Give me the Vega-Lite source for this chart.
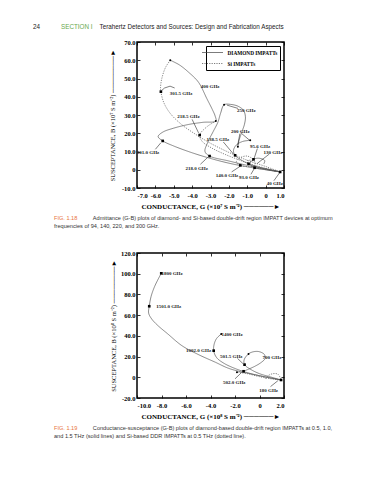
{
  "$schema": "https://vega.github.io/schema/vega-lite/v6.json",
  "background": "white",
  "padding": {"left": 33, "top": 23, "right": 0, "bottom": 0},
  "spacing": 19,
  "title": {
    "text": "\u200b\u00a0\u00a0\u00a0\u00a0\u00a0\u00a0\u00a0\u00a0\u00a0\u00a0\u00a0\u00a0\u00a0\u00a0\u00a0\u00a0SECTION I",
    "subtitle": "24\u00a0\u00a0\u00a0\u00a0\u00a0\u00a0\u00a0\u00a0\u00a0\u00a0\u00a0\u00a0\u00a0\u00a0\u00a0\u00a0\u00a0\u00a0\u00a0\u00a0\u00a0\u00a0\u00a0\u00a0\u00a0\u00a0\u00a0\u00a0\u00a0\u00a0\u00a0\u00a0\u00a0\u00a0Terahertz Detectors and Sources: Design and Fabrication Aspects",
    "anchor": "start", "frame": "group", "dx": -104, "offset": 8,
    "font": "Liberation Sans", "fontSize": 6.3, "fontWeight": "normal", "color": "#6aa84f",
    "subtitleFont": "Liberation Sans", "subtitleFontSize": 6.3, "subtitleColor": "#222", "subtitlePadding": -6.3
  },
  "config": {
    "view": {"stroke": "black", "strokeWidth": 1.5},
    "axis": {"grid": false, "domain": false, "tickSize": -3, "tickColor": "black", "tickWidth": 0.8,
      "labelFont": "Liberation Serif", "labelFontWeight": "bold", "labelFontSize": 6.5, "labelColor": "black",
      "titleFont": "Liberation Serif", "titleFontSize": 6.5, "titleColor": "black", "titleFontWeight": "normal"},
    "axisX": {"labelPadding": 7, "titleFontWeight": "bold", "titleFontSize": 7, "titlePadding": 4},
    "axisY": {"labelPadding": 5, "titlePadding": 6},
    "legend": {"title": null, "orient": "top-right", "offset": 4, "symbolType": "M-3,0H3", "symbolSize": 49,
      "symbolStrokeWidth": 0.7, "symbolStrokeColor": "#444", "labelFont": "Liberation Serif", "labelFontWeight": "bold",
      "labelFontSize": 5.3, "labelColor": "black", "strokeColor": "black", "fillColor": "white", "padding": 2.5,
      "rowPadding": 3, "labelOffset": 11}
  },
  "datasets": {
    "c1": [
      {"curve":"D300","impatt":"DIAMOND IMPATTs","i":0,"g":0.79,"b":-1.2},
      {"curve":"D300","impatt":"DIAMOND IMPATTs","i":1,"g":0,"b":0},
      {"curve":"D300","impatt":"DIAMOND IMPATTs","i":2,"g":-1,"b":1.6},
      {"curve":"D300","impatt":"DIAMOND IMPATTs","i":3,"g":-2,"b":3.6},
      {"curve":"D300","impatt":"DIAMOND IMPATTs","i":4,"g":-3,"b":6.2},
      {"curve":"D300","impatt":"DIAMOND IMPATTs","i":5,"g":-4,"b":9.3},
      {"curve":"D300","impatt":"DIAMOND IMPATTs","i":6,"g":-5,"b":13},
      {"curve":"D300","impatt":"DIAMOND IMPATTs","i":7,"g":-5.6,"b":15.8},
      {"curve":"D300","impatt":"DIAMOND IMPATTs","i":8,"g":-5.85,"b":18.2},
      {"curve":"D300","impatt":"DIAMOND IMPATTs","i":9,"g":-5.6,"b":20.6},
      {"curve":"D300","impatt":"DIAMOND IMPATTs","i":10,"g":-5,"b":22.8},
      {"curve":"D300","impatt":"DIAMOND IMPATTs","i":11,"g":-4.2,"b":24.8},
      {"curve":"D300","impatt":"DIAMOND IMPATTs","i":12,"g":-3.4,"b":26},
      {"curve":"D300","impatt":"DIAMOND IMPATTs","i":13,"g":-2.71,"b":26.7},
      {"curve":"D300","impatt":"DIAMOND IMPATTs","i":14,"g":-2.75,"b":29.5},
      {"curve":"D300","impatt":"DIAMOND IMPATTs","i":15,"g":-2.9,"b":33},
      {"curve":"D300","impatt":"DIAMOND IMPATTs","i":16,"g":-3.2,"b":39},
      {"curve":"D300","impatt":"DIAMOND IMPATTs","i":17,"g":-3.65,"b":47.9},
      {"curve":"D300","impatt":"DIAMOND IMPATTs","i":18,"g":-4.2,"b":53.5},
      {"curve":"D300","impatt":"DIAMOND IMPATTs","i":19,"g":-4.7,"b":57.5},
      {"curve":"D300","impatt":"DIAMOND IMPATTs","i":20,"g":-5.19,"b":60},
      {"curve":"S300","impatt":"Si IMPATTs","i":0,"g":-5.19,"b":60},
      {"curve":"S300","impatt":"Si IMPATTs","i":1,"g":-5.45,"b":56},
      {"curve":"S300","impatt":"Si IMPATTs","i":2,"g":-5.65,"b":50},
      {"curve":"S300","impatt":"Si IMPATTs","i":3,"g":-5.72,"b":45},
      {"curve":"S300","impatt":"Si IMPATTs","i":4,"g":-5.7,"b":42.8},
      {"curve":"S300","impatt":"Si IMPATTs","i":5,"g":-5.55,"b":37},
      {"curve":"S300","impatt":"Si IMPATTs","i":6,"g":-5.2,"b":31},
      {"curve":"S300","impatt":"Si IMPATTs","i":7,"g":-4.6,"b":25},
      {"curve":"S300","impatt":"Si IMPATTs","i":8,"g":-3.9,"b":20},
      {"curve":"S300","impatt":"Si IMPATTs","i":9,"g":-3,"b":14.5},
      {"curve":"S300","impatt":"Si IMPATTs","i":10,"g":-2,"b":9.5},
      {"curve":"S300","impatt":"Si IMPATTs","i":11,"g":-1,"b":5.2},
      {"curve":"S300","impatt":"Si IMPATTs","i":12,"g":0,"b":1.8},
      {"curve":"S300","impatt":"Si IMPATTs","i":13,"g":0.79,"b":-1.2},
      {"curve":"D220","impatt":"DIAMOND IMPATTs","i":0,"g":0.79,"b":-1.2},
      {"curve":"D220","impatt":"DIAMOND IMPATTs","i":1,"g":0,"b":0.4},
      {"curve":"D220","impatt":"DIAMOND IMPATTs","i":2,"g":-1,"b":2.4},
      {"curve":"D220","impatt":"DIAMOND IMPATTs","i":3,"g":-2,"b":4.8},
      {"curve":"D220","impatt":"DIAMOND IMPATTs","i":4,"g":-3.05,"b":7.5},
      {"curve":"D220","impatt":"DIAMOND IMPATTs","i":5,"g":-3.3,"b":10},
      {"curve":"D220","impatt":"DIAMOND IMPATTs","i":6,"g":-3.15,"b":15},
      {"curve":"D220","impatt":"DIAMOND IMPATTs","i":7,"g":-2.85,"b":21},
      {"curve":"D220","impatt":"DIAMOND IMPATTs","i":8,"g":-2.6,"b":26},
      {"curve":"D220","impatt":"DIAMOND IMPATTs","i":9,"g":-2.45,"b":31},
      {"curve":"D220","impatt":"DIAMOND IMPATTs","i":10,"g":-2.26,"b":35.6},
      {"curve":"D220","impatt":"DIAMOND IMPATTs","i":11,"g":-1.9,"b":35.8},
      {"curve":"D220","impatt":"DIAMOND IMPATTs","i":12,"g":-1.5,"b":34.8},
      {"curve":"D220","impatt":"DIAMOND IMPATTs","i":13,"g":-1.2,"b":32.5},
      {"curve":"D220","impatt":"DIAMOND IMPATTs","i":14,"g":-1.1,"b":29},
      {"curve":"D220","impatt":"DIAMOND IMPATTs","i":15,"g":-1.15,"b":25},
      {"curve":"D220","impatt":"DIAMOND IMPATTs","i":16,"g":-1.3,"b":20.5},
      {"curve":"D220","impatt":"DIAMOND IMPATTs","i":17,"g":-1.45,"b":16},
      {"curve":"D220","impatt":"DIAMOND IMPATTs","i":18,"g":-1.51,"b":12.6},
      {"curve":"S220","impatt":"Si IMPATTs","i":0,"g":-2.71,"b":26.7},
      {"curve":"S220","impatt":"Si IMPATTs","i":1,"g":-3.2,"b":23.5},
      {"curve":"S220","impatt":"Si IMPATTs","i":2,"g":-3.59,"b":19},
      {"curve":"S220","impatt":"Si IMPATTs","i":3,"g":-3.45,"b":15.5},
      {"curve":"S220","impatt":"Si IMPATTs","i":4,"g":-2.95,"b":12},
      {"curve":"S220","impatt":"Si IMPATTs","i":5,"g":-2.25,"b":8.6},
      {"curve":"S220","impatt":"Si IMPATTs","i":6,"g":-1.5,"b":5.6},
      {"curve":"S220","impatt":"Si IMPATTs","i":7,"g":-0.8,"b":3},
      {"curve":"S220","impatt":"Si IMPATTs","i":8,"g":0,"b":0.8},
      {"curve":"S220","impatt":"Si IMPATTs","i":9,"g":0.79,"b":-1.2},
      {"curve":"D140","impatt":"DIAMOND IMPATTs","i":0,"g":0.79,"b":-1.2},
      {"curve":"D140","impatt":"DIAMOND IMPATTs","i":1,"g":0.2,"b":0.2},
      {"curve":"D140","impatt":"DIAMOND IMPATTs","i":2,"g":-0.4,"b":1.4},
      {"curve":"D140","impatt":"DIAMOND IMPATTs","i":3,"g":-0.93,"b":3.3},
      {"curve":"D140","impatt":"DIAMOND IMPATTs","i":4,"g":-1.35,"b":5.5},
      {"curve":"D140","impatt":"DIAMOND IMPATTs","i":5,"g":-1.66,"b":7.9},
      {"curve":"D140","impatt":"DIAMOND IMPATTs","i":6,"g":-1.75,"b":10.5},
      {"curve":"D140","impatt":"DIAMOND IMPATTs","i":7,"g":-1.6,"b":13.5},
      {"curve":"D140","impatt":"DIAMOND IMPATTs","i":8,"g":-1.25,"b":15.5},
      {"curve":"D140","impatt":"DIAMOND IMPATTs","i":9,"g":-0.84,"b":16.1},
      {"curve":"S140","impatt":"Si IMPATTs","i":0,"g":0.79,"b":-1.2},
      {"curve":"S140","impatt":"Si IMPATTs","i":1,"g":0.1,"b":0.1},
      {"curve":"S140","impatt":"Si IMPATTs","i":2,"g":-0.7,"b":1.5},
      {"curve":"S140","impatt":"Si IMPATTs","i":3,"g":-1.38,"b":2.4},
      {"curve":"S140","impatt":"Si IMPATTs","i":4,"g":-1.6,"b":4.2},
      {"curve":"S140","impatt":"Si IMPATTs","i":5,"g":-1.4,"b":6.5},
      {"curve":"S140","impatt":"Si IMPATTs","i":6,"g":-1,"b":7.5},
      {"curve":"S140","impatt":"Si IMPATTs","i":7,"g":-0.66,"b":5.7},
      {"curve":"D94","impatt":"DIAMOND IMPATTs","i":0,"g":0.79,"b":-1.2},
      {"curve":"D94","impatt":"DIAMOND IMPATTs","i":1,"g":0.3,"b":-0.4},
      {"curve":"D94","impatt":"DIAMOND IMPATTs","i":2,"g":-0.2,"b":0.4},
      {"curve":"D94","impatt":"DIAMOND IMPATTs","i":3,"g":-0.6,"b":1.1},
      {"curve":"D94","impatt":"DIAMOND IMPATTs","i":4,"g":-0.85,"b":3},
      {"curve":"D94","impatt":"DIAMOND IMPATTs","i":5,"g":-0.66,"b":5.7},
      {"curve":"D94","impatt":"DIAMOND IMPATTs","i":6,"g":-0.35,"b":6.3},
      {"curve":"D94","impatt":"DIAMOND IMPATTs","i":7,"g":-0.05,"b":5},
      {"curve":"D94","impatt":"DIAMOND IMPATTs","i":8,"g":-0.1,"b":3.2},
      {"curve":"S94","impatt":"Si IMPATTs","i":0,"g":0.79,"b":-1.2},
      {"curve":"S94","impatt":"Si IMPATTs","i":1,"g":0.2,"b":-0.1},
      {"curve":"S94","impatt":"Si IMPATTs","i":2,"g":-0.4,"b":1.6},
      {"curve":"S94","impatt":"Si IMPATTs","i":3,"g":-0.93,"b":3.3},
      {"curve":"S94","impatt":"Si IMPATTs","i":4,"g":-1,"b":5},
      {"curve":"S94","impatt":"Si IMPATTs","i":5,"g":-0.6,"b":4.6},
      {"curve":"S94","impatt":"Si IMPATTs","i":6,"g":-0.6,"b":1.1}
    ],
    "l1": [
      {"curve":"L1","i":0,"g":-6.0,"b":11.2},{"curve":"L1","i":1,"g":-5.7,"b":14.8},
      {"curve":"L2","i":0,"g":-3.55,"b":3},{"curve":"L2","i":1,"g":-3.15,"b":6.8},
      {"curve":"L3","i":0,"g":-4.0,"b":27.6},{"curve":"L3","i":1,"g":-3.65,"b":20.2},
      {"curve":"L4","i":0,"g":-2.3,"b":15.2},{"curve":"L4","i":1,"g":-1.75,"b":8.6},
      {"curve":"L5","i":0,"g":-1.4,"b":19.8},{"curve":"L5","i":1,"g":-1.52,"b":13.4},
      {"curve":"L6","i":0,"g":-1.3,"b":19.8},{"curve":"L6","i":1,"g":-0.9,"b":16.4},
      {"curve":"L7","i":0,"g":-0.45,"b":11.6},{"curve":"L7","i":1,"g":-0.62,"b":6.4},
      {"curve":"L8","i":0,"g":0.2,"b":8.6},{"curve":"L8","i":1,"g":-0.45,"b":3.5},
      {"curve":"L9","i":0,"g":-1.85,"b":-1.2},{"curve":"L9","i":1,"g":-1.4,"b":1.8},
      {"curve":"L10","i":0,"g":-0.8,"b":-2.5},{"curve":"L10","i":1,"g":-0.62,"b":0.6},
      {"curve":"L11","i":0,"g":0.45,"b":-6},{"curve":"L11","i":1,"g":0.75,"b":-1.8},
      {"curve":"L12","i":0,"g":-4.95,"b":44.8},{"curve":"L12","i":1,"g":-5.2,"b":45.8},{"curve":"L12","i":2,"g":-5.5,"b":44.8},{"curve":"L12","i":3,"g":-5.65,"b":43.5},
      {"curve":"L13","i":0,"g":-1.5,"b":33.6},{"curve":"L13","i":1,"g":-2.1,"b":35.4}
    ],
    "sq1": [
      {"g":-5.7,"b":42.8},{"g":-5.6,"b":15.8},{"g":-3.59,"b":19},{"g":-3.05,"b":7.5},{"g":-1.66,"b":7.9},
      {"g":-1.38,"b":2.4},{"g":-0.93,"b":3.3},{"g":-0.6,"b":1.1},{"g":0.79,"b":-1.2},{"g":-0.66,"b":5.7}
    ],
    "dot1": [
      {"g":-5.19,"b":60},{"g":-2.71,"b":26.7},{"g":-2.26,"b":35.6},{"g":-0.84,"b":16.1},{"g":-1.51,"b":12.6}
    ],
    "t1": [
      {"label":"400 GHz","g":-3.02,"b":45.9},
      {"label":"301.5 GHz","g":-4.6,"b":42.3},
      {"label":"250 GHz","g":-1.05,"b":32.8},
      {"label":"218.5 GHz","g":-4.2,"b":29.5},
      {"label":"200 GHz","g":-1.38,"b":21.4},
      {"label":"138.5 GHz","g":-2.6,"b":16.7},
      {"label":"95.6 GHz","g":-0.3,"b":13},
      {"label":"130 GHz","g":0.4,"b":9.8},
      {"label":"301.0 GHz","g":-6.4,"b":9.8},
      {"label":"218.0 GHz","g":-3.75,"b":1.1},
      {"label":"140.0 GHz","g":-2.1,"b":-2.7},
      {"label":"93.0 GHz","g":-0.9,"b":-3.9},
      {"label":"40 GHz","g":0.5,"b":-7.5}
    ],
    "c2": [
      {"curve":"D15","impatt":"DIAMOND IMPATTs","i":0,"g":1.76,"b":-2.6},
      {"curve":"D15","impatt":"DIAMOND IMPATTs","i":1,"g":1,"b":-1},
      {"curve":"D15","impatt":"DIAMOND IMPATTs","i":2,"g":0,"b":1.5},
      {"curve":"D15","impatt":"DIAMOND IMPATTs","i":3,"g":-1,"b":4},
      {"curve":"D15","impatt":"DIAMOND IMPATTs","i":4,"g":-1.7,"b":5.8},
      {"curve":"D15","impatt":"DIAMOND IMPATTs","i":5,"g":-2.6,"b":9},
      {"curve":"D15","impatt":"DIAMOND IMPATTs","i":6,"g":-3.6,"b":14.5},
      {"curve":"D15","impatt":"DIAMOND IMPATTs","i":7,"g":-5,"b":22},
      {"curve":"D15","impatt":"DIAMOND IMPATTs","i":8,"g":-6.33,"b":30.5},
      {"curve":"D15","impatt":"DIAMOND IMPATTs","i":9,"g":-7.5,"b":42},
      {"curve":"D15","impatt":"DIAMOND IMPATTs","i":10,"g":-8.3,"b":50},
      {"curve":"D15","impatt":"DIAMOND IMPATTs","i":11,"g":-8.8,"b":56.3},
      {"curve":"D15","impatt":"DIAMOND IMPATTs","i":12,"g":-9.05,"b":62},
      {"curve":"D15","impatt":"DIAMOND IMPATTs","i":13,"g":-9,"b":68.6},
      {"curve":"D15","impatt":"DIAMOND IMPATTs","i":14,"g":-8.85,"b":78},
      {"curve":"D15","impatt":"DIAMOND IMPATTs","i":15,"g":-8.55,"b":88},
      {"curve":"D15","impatt":"DIAMOND IMPATTs","i":16,"g":-8.02,"b":100.4},
      {"curve":"D10","impatt":"DIAMOND IMPATTs","i":0,"g":1.76,"b":-2.6},
      {"curve":"D10","impatt":"DIAMOND IMPATTs","i":1,"g":1,"b":-0.8},
      {"curve":"D10","impatt":"DIAMOND IMPATTs","i":2,"g":0,"b":1.5},
      {"curve":"D10","impatt":"DIAMOND IMPATTs","i":3,"g":-1,"b":4.5},
      {"curve":"D10","impatt":"DIAMOND IMPATTs","i":4,"g":-2,"b":8.5},
      {"curve":"D10","impatt":"DIAMOND IMPATTs","i":5,"g":-2.9,"b":13.5},
      {"curve":"D10","impatt":"DIAMOND IMPATTs","i":6,"g":-3.5,"b":19},
      {"curve":"D10","impatt":"DIAMOND IMPATTs","i":7,"g":-3.74,"b":25.7},
      {"curve":"D10","impatt":"DIAMOND IMPATTs","i":8,"g":-3.7,"b":32},
      {"curve":"D10","impatt":"DIAMOND IMPATTs","i":9,"g":-3.5,"b":37.5},
      {"curve":"D10","impatt":"DIAMOND IMPATTs","i":10,"g":-3.12,"b":41.8},
      {"curve":"D05","impatt":"DIAMOND IMPATTs","i":0,"g":1.76,"b":-2.6},
      {"curve":"D05","impatt":"DIAMOND IMPATTs","i":1,"g":1,"b":0},
      {"curve":"D05","impatt":"DIAMOND IMPATTs","i":2,"g":0,"b":3.5},
      {"curve":"D05","impatt":"DIAMOND IMPATTs","i":3,"g":-0.7,"b":7.5},
      {"curve":"D05","impatt":"DIAMOND IMPATTs","i":4,"g":-1.22,"b":12.2},
      {"curve":"D05","impatt":"DIAMOND IMPATTs","i":5,"g":-1.25,"b":17},
      {"curve":"D05","impatt":"DIAMOND IMPATTs","i":6,"g":-0.9,"b":22.5},
      {"curve":"D05","impatt":"DIAMOND IMPATTs","i":7,"g":-0.55,"b":24.5},
      {"curve":"D05","impatt":"DIAMOND IMPATTs","i":8,"g":-0.05,"b":24.8},
      {"curve":"D05","impatt":"DIAMOND IMPATTs","i":9,"g":0.4,"b":22},
      {"curve":"D05","impatt":"DIAMOND IMPATTs","i":10,"g":0.45,"b":18},
      {"curve":"D05","impatt":"DIAMOND IMPATTs","i":11,"g":0.1,"b":14},
      {"curve":"D05","impatt":"DIAMOND IMPATTs","i":12,"g":-0.4,"b":10.5},
      {"curve":"D05","impatt":"DIAMOND IMPATTs","i":13,"g":-0.9,"b":7.8},
      {"curve":"D05","impatt":"DIAMOND IMPATTs","i":14,"g":-1.3,"b":5.8},
      {"curve":"S05","impatt":"Si IMPATTs","i":0,"g":1.76,"b":-2.6},
      {"curve":"S05","impatt":"Si IMPATTs","i":1,"g":1,"b":-1.6},
      {"curve":"S05","impatt":"Si IMPATTs","i":2,"g":0,"b":0.6},
      {"curve":"S05","impatt":"Si IMPATTs","i":3,"g":-1,"b":3.5},
      {"curve":"S05","impatt":"Si IMPATTs","i":4,"g":-1.84,"b":4.9},
      {"curve":"S05b","impatt":"Si IMPATTs","i":0,"g":0.5,"b":-1.5},
      {"curve":"S05b","impatt":"Si IMPATTs","i":1,"g":0.7,"b":1.5},
      {"curve":"S05b","impatt":"Si IMPATTs","i":2,"g":1.1,"b":3.5},
      {"curve":"S05b","impatt":"Si IMPATTs","i":3,"g":1.5,"b":3},
      {"curve":"S05b","impatt":"Si IMPATTs","i":4,"g":1.76,"b":-2}
    ],
    "l2": [
      {"curve":"M1","i":0,"g":-1.8,"b":18.3},{"curve":"M1","i":1,"g":-1.35,"b":13.2},
      {"curve":"M2","i":0,"g":-2.0,"b":-1.5},{"curve":"M2","i":1,"g":-1.45,"b":4.8},
      {"curve":"M3","i":0,"g":0.9,"b":-9},{"curve":"M3","i":1,"g":1.5,"b":-3.3}
    ],
    "sq2": [
      {"g":-8.02,"b":100.4},{"g":-9,"b":68.6},{"g":-3.74,"b":25.7},{"g":-1.22,"b":12.2},{"g":-1.3,"b":5.8},{"g":1.76,"b":-2.6}
    ],
    "dot2": [
      {"g":-3.12,"b":41.8},{"g":-0.9,"b":22.5},{"g":-1.84,"b":4.9}
    ],
    "t2": [
      {"label":"1800 GHz","g":-7.14,"b":100.4},
      {"label":"1501.0 GHz","g":-7.41,"b":68.6},
      {"label":"1400 GHz","g":-2.24,"b":41.8},
      {"label":"1002.0 GHz","g":-4.97,"b":26.7},
      {"label":"501.5 GHz","g":-2.3,"b":20.3},
      {"label":"700 GHz","g":1.02,"b":19.3},
      {"label":"502.0 GHz","g":-2.06,"b":-4.2},
      {"label":"180 GHz","g":0.75,"b":-12}
    ]
  },
  "vconcat": [
    {
      "width": 147, "height": 146,
      "title": {
        "text": "FIG. 1.18",
        "subtitle": ["\u200b\u00a0\u00a0\u00a0\u00a0\u00a0\u00a0\u00a0\u00a0\u00a0\u00a0\u00a0\u00a0\u00a0\u00a0\u00a0\u00a0\u00a0\u00a0\u00a0\u00a0\u00a0\u00a0\u00a0\u00a0\u00a0Admittance (G-B) plots of diamond- and Si-based double-drift region IMPATT devices at optimum", "frequencies of 94, 140, 220, and 300 GHz."],
        "orient": "bottom", "anchor": "start", "frame": "group", "dx": -83, "offset": 6,
        "font": "Liberation Sans", "fontSize": 5.6, "fontWeight": "normal", "color": "#e8743b",
        "subtitleFont": "Liberation Sans", "subtitleFontSize": 5.6, "subtitleColor": "#333", "subtitlePadding": -5.6, "subtitleLineHeight": 8
      },
      "resolve": {"axis": {"x": "independent", "y": "independent"}},
      "layer": [
        {
          "data": {"name": "c1"},
          "mark": {"type": "line", "interpolate": "catmull-rom", "strokeWidth": 0.7, "color": "#555"},
          "encoding": {
            "x": {"field": "g", "type": "quantitative", "scale": {"domain": [-7, 1], "nice": false, "zero": false},
              "axis": {"values": [-7,-6,-5,-4,-3,-2,-1,0,1], "labelExpr": "datum.value == 0 ? '0' : replace(format(datum.value, '.1f'), '\u2212', '-')", "title": "CONDUCTANCE, G (\u00d710\u2077 S m\u207b\u00b2) \u2500\u2500\u2500\u2500\u2500\u2500\u25ba"}},
            "y": {"field": "b", "type": "quantitative", "scale": {"domain": [-10, 70], "nice": false, "zero": false},
              "axis": {"values": [-10,0,10,20,30,40,50,60,70], "labelExpr": "datum.value == 0 ? '0' : replace(format(datum.value, '.1f'), '\u2212', '-')", "title": "SUSCEPTANCE, B (\u00d710\u2077 S m\u207b\u00b2) \u2500\u2500\u2500\u2500\u2500\u2500\u2500\u2500\u25ba"}},
            "detail": {"field": "curve"},
            "order": {"field": "i"},
            "strokeDash": {"field": "impatt", "type": "nominal",
              "scale": {"domain": ["DIAMOND IMPATTs", "Si IMPATTs"], "range": [[1, 0], [1.2, 1.2]]}}
          }
        },
        {
          "data": {"name": "l1"},
          "mark": {"type": "line", "strokeWidth": 0.5, "color": "black"},
          "encoding": {
            "x": {"field": "g", "type": "quantitative", "axis": null},
            "y": {"field": "b", "type": "quantitative", "axis": null},
            "detail": {"field": "curve"},
            "order": {"field": "i"}
          }
        },
        {
          "data": {"name": "sq1"},
          "mark": {"type": "square", "size": 7, "color": "black", "filled": true, "opacity": 1},
          "encoding": {
            "x": {"field": "g", "type": "quantitative", "axis": {"orient": "top", "values": [-7,-6,-5,-4,-3,-2,-1,0,1], "labels": false, "title": null}},
            "y": {"field": "b", "type": "quantitative", "axis": {"orient": "right", "values": [-10,0,10,20,30,40,50,60,70], "labels": false, "title": null}}
          }
        },
        {
          "data": {"name": "dot1"},
          "mark": {"type": "circle", "size": 4, "color": "black", "opacity": 1},
          "encoding": {
            "x": {"field": "g", "type": "quantitative", "axis": null},
            "y": {"field": "b", "type": "quantitative", "axis": null}
          }
        },
        {
          "data": {"name": "t1"},
          "mark": {"type": "text", "font": "Liberation Serif", "fontWeight": "bold", "fontSize": 5, "color": "#222"},
          "encoding": {
            "x": {"field": "g", "type": "quantitative", "axis": null},
            "y": {"field": "b", "type": "quantitative", "axis": null},
            "text": {"field": "label"}
          }
        }
      ]
    },
    {
      "width": 147, "height": 145,
      "title": {
        "text": "FIG. 1.19",
        "subtitle": ["\u200b\u00a0\u00a0\u00a0\u00a0\u00a0\u00a0\u00a0\u00a0\u00a0\u00a0\u00a0\u00a0\u00a0\u00a0\u00a0\u00a0\u00a0\u00a0\u00a0\u00a0\u00a0\u00a0\u00a0\u00a0\u00a0Conductance-susceptance (G-B) plots of diamond-based double-drift region IMPATTs at 0.5, 1.0,", "and 1.5 THz (solid lines) and Si-based DDR IMPATTs at 0.5 THz (dotted line)."],
        "orient": "bottom", "anchor": "start", "frame": "group", "dx": -83, "offset": 6,
        "font": "Liberation Sans", "fontSize": 5.6, "fontWeight": "normal", "color": "#e8743b",
        "subtitleFont": "Liberation Sans", "subtitleFontSize": 5.6, "subtitleColor": "#333", "subtitlePadding": -5.6, "subtitleLineHeight": 8
      },
      "resolve": {"axis": {"x": "independent", "y": "independent"}},
      "layer": [
        {
          "data": {"name": "c2"},
          "mark": {"type": "line", "interpolate": "catmull-rom", "strokeWidth": 0.7, "color": "#555"},
          "encoding": {
            "x": {"field": "g", "type": "quantitative", "scale": {"domain": [-10, 2], "nice": false, "zero": false},
              "axis": {"values": [-10,-8,-6,-4,-2,0,2], "labelExpr": "datum.value == 0 ? '0' : replace(format(datum.value, '.1f'), '\u2212', '-')", "title": "CONDUCTANCE, G (\u00d710\u2078 S m\u207b\u00b2) \u2500\u2500\u2500\u2500\u2500\u2500\u25ba"}},
            "y": {"field": "b", "type": "quantitative", "scale": {"domain": [-20, 120], "nice": false, "zero": false},
              "axis": {"values": [-20,0,20,40,60,80,100,120], "labelExpr": "datum.value == 0 ? '0' : replace(format(datum.value, '.1f'), '\u2212', '-')", "titlePadding": 4, "title": "SUSCEPTANCE, B (\u00d710\u2078 S m\u207b\u00b2) \u2500\u2500\u2500\u2500\u2500\u2500\u2500\u2500\u25ba"}},
            "detail": {"field": "curve"},
            "order": {"field": "i"},
            "strokeDash": {"field": "impatt", "type": "nominal",
              "scale": {"domain": ["DIAMOND IMPATTs", "Si IMPATTs"], "range": [[1, 0], [1.2, 1.2]]}}
          }
        },
        {
          "data": {"name": "l2"},
          "mark": {"type": "line", "strokeWidth": 0.5, "color": "black"},
          "encoding": {
            "x": {"field": "g", "type": "quantitative", "axis": null},
            "y": {"field": "b", "type": "quantitative", "axis": null},
            "detail": {"field": "curve"},
            "order": {"field": "i"}
          }
        },
        {
          "data": {"name": "sq2"},
          "mark": {"type": "square", "size": 7, "color": "black", "filled": true, "opacity": 1},
          "encoding": {
            "x": {"field": "g", "type": "quantitative", "axis": {"orient": "top", "values": [-10,-8,-6,-4,-2,0,2], "labels": false, "title": null}},
            "y": {"field": "b", "type": "quantitative", "axis": {"orient": "right", "values": [-20,0,20,40,60,80,100,120], "labels": false, "title": null}}
          }
        },
        {
          "data": {"name": "dot2"},
          "mark": {"type": "circle", "size": 4, "color": "black", "opacity": 1},
          "encoding": {
            "x": {"field": "g", "type": "quantitative", "axis": null},
            "y": {"field": "b", "type": "quantitative", "axis": null}
          }
        },
        {
          "data": {"name": "t2"},
          "mark": {"type": "text", "font": "Liberation Serif", "fontWeight": "bold", "fontSize": 5, "color": "#222"},
          "encoding": {
            "x": {"field": "g", "type": "quantitative", "axis": null},
            "y": {"field": "b", "type": "quantitative", "axis": null},
            "text": {"field": "label"}
          }
        }
      ]
    }
  ]
}
